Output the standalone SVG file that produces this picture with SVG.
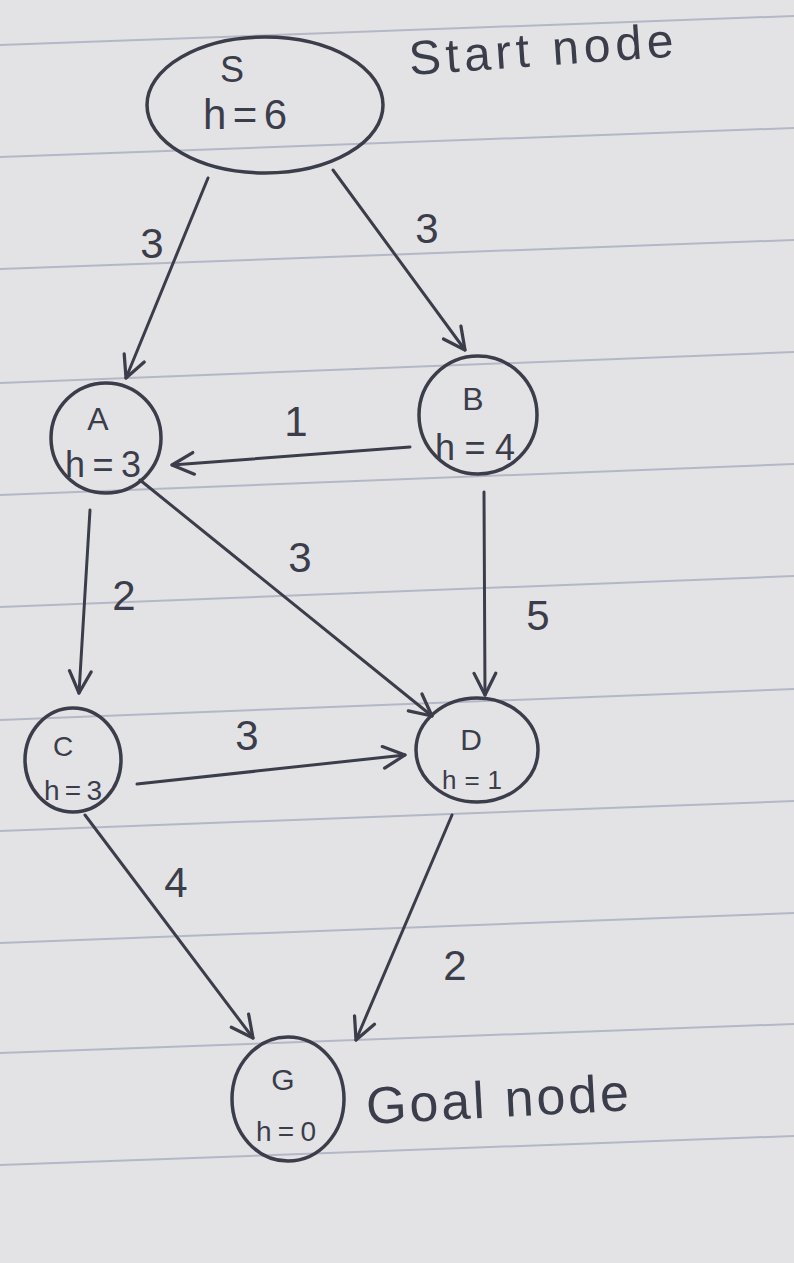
<svg xmlns="http://www.w3.org/2000/svg" width="794" height="1263" viewBox="0 0 794 1263">
<defs>
<marker id="arr" viewBox="0 0 24 24" refX="22" refY="12" markerWidth="26" markerHeight="26" markerUnits="userSpaceOnUse" orient="auto">
<path d="M2,2 L22,12 L2,22" fill="none" stroke="#3b3d4a" stroke-width="3" stroke-linecap="round" stroke-linejoin="round"/>
</marker>
</defs>
<style>
.paper{stroke:#b4b8c6;stroke-width:2;fill:none}
.node{fill:none;stroke:#3b3d4a;stroke-width:3.5}
.edge{fill:none;stroke:#3b3d4a;stroke-width:3;stroke-linecap:round;marker-end:url(#arr)}
.t{font-family:"Liberation Sans",Arial,sans-serif;fill:#3b3d4a;text-anchor:middle}
.lbl{font-size:42px}
.w{font-family:"Liberation Sans",Arial,sans-serif;fill:#3b3d4a}
</style>
<rect width="794" height="1263" fill="#e3e3e6"/>
<g id="paper-lines">
<line class="paper" x1="0" y1="45" x2="794" y2="16"/>
<line class="paper" x1="0" y1="157" x2="794" y2="128"/>
<line class="paper" x1="0" y1="269" x2="794" y2="240"/>
<line class="paper" x1="0" y1="383" x2="794" y2="352"/>
<line class="paper" x1="0" y1="495" x2="794" y2="464"/>
<line class="paper" x1="0" y1="607" x2="794" y2="576"/>
<line class="paper" x1="0" y1="720" x2="794" y2="689"/>
<line class="paper" x1="0" y1="831" x2="794" y2="801"/>
<line class="paper" x1="0" y1="943" x2="794" y2="913"/>
<line class="paper" x1="0" y1="1053" x2="794" y2="1024"/>
<line class="paper" x1="0" y1="1165" x2="794" y2="1136"/>
</g>
<g id="connectors">
<line class="edge" x1="208" y1="178" x2="126" y2="378"/>
<line class="edge" x1="333" y1="170" x2="465" y2="350"/>
<line class="edge" x1="410" y1="447" x2="172" y2="465"/>
<line class="edge" x1="90" y1="510" x2="79" y2="693"/>
<line class="edge" x1="140" y1="480" x2="432" y2="716"/>
<line class="edge" x1="484" y1="492" x2="485" y2="695"/>
<line class="edge" x1="137" y1="784" x2="405" y2="755"/>
<line class="edge" x1="85" y1="815" x2="253" y2="1038"/>
<line class="edge" x1="452" y1="815" x2="356" y2="1040"/>
<text class="t lbl" x="152" y="258">3</text>
<text class="t lbl" x="427" y="243">3</text>
<text class="t lbl" x="296" y="436">1</text>
<text class="t lbl" x="124" y="610">2</text>
<text class="t lbl" x="300" y="572">3</text>
<text class="t lbl" x="538" y="630">5</text>
<text class="t lbl" x="247" y="750">3</text>
<text class="t lbl" x="176" y="897">4</text>
<text class="t lbl" x="455" y="980">2</text>
</g>
<g id="node-S">
<ellipse class="node" cx="265" cy="105" rx="118" ry="68"/>
<text class="t" x="232" y="82" font-size="36">S</text>
<text class="t" x="245" y="129" font-size="42" textLength="84">h=6</text>
</g>
<text class="w" x="410" y="75" font-size="48" textLength="265" transform="rotate(-4 410 75)">Start node</text>
<g id="node-A">
<circle class="node" cx="106" cy="438" r="55"/>
<text class="t" x="98" y="430" font-size="32">A</text>
<text class="t" x="103" y="477" font-size="36" textLength="76">h=3</text>
</g>
<g id="node-B">
<circle class="node" cx="478" cy="415" r="59"/>
<text class="t" x="473" y="410" font-size="32">B</text>
<text class="t" x="475" y="460" font-size="36" textLength="80">h=4</text>
</g>
<g id="node-C">
<ellipse class="node" cx="73" cy="760" rx="48" ry="52"/>
<text class="t" x="63" y="756" font-size="28">C</text>
<text class="t" x="73" y="800" font-size="28" textLength="58">h=3</text>
</g>
<g id="node-D">
<ellipse class="node" cx="477" cy="750" rx="61" ry="52"/>
<text class="t" x="471" y="750" font-size="30">D</text>
<text class="t" x="472" y="789" font-size="26" textLength="60">h=1</text>
</g>
<g id="node-G">
<ellipse class="node" cx="288" cy="1099" rx="56" ry="62"/>
<text class="t" x="283" y="1090" font-size="30">G</text>
<text class="t" x="286" y="1141" font-size="28" textLength="60">h=0</text>
</g>
<text class="w" x="367" y="1124" font-size="52" textLength="263" transform="rotate(-3 367 1124)">Goal node</text>
</svg>
